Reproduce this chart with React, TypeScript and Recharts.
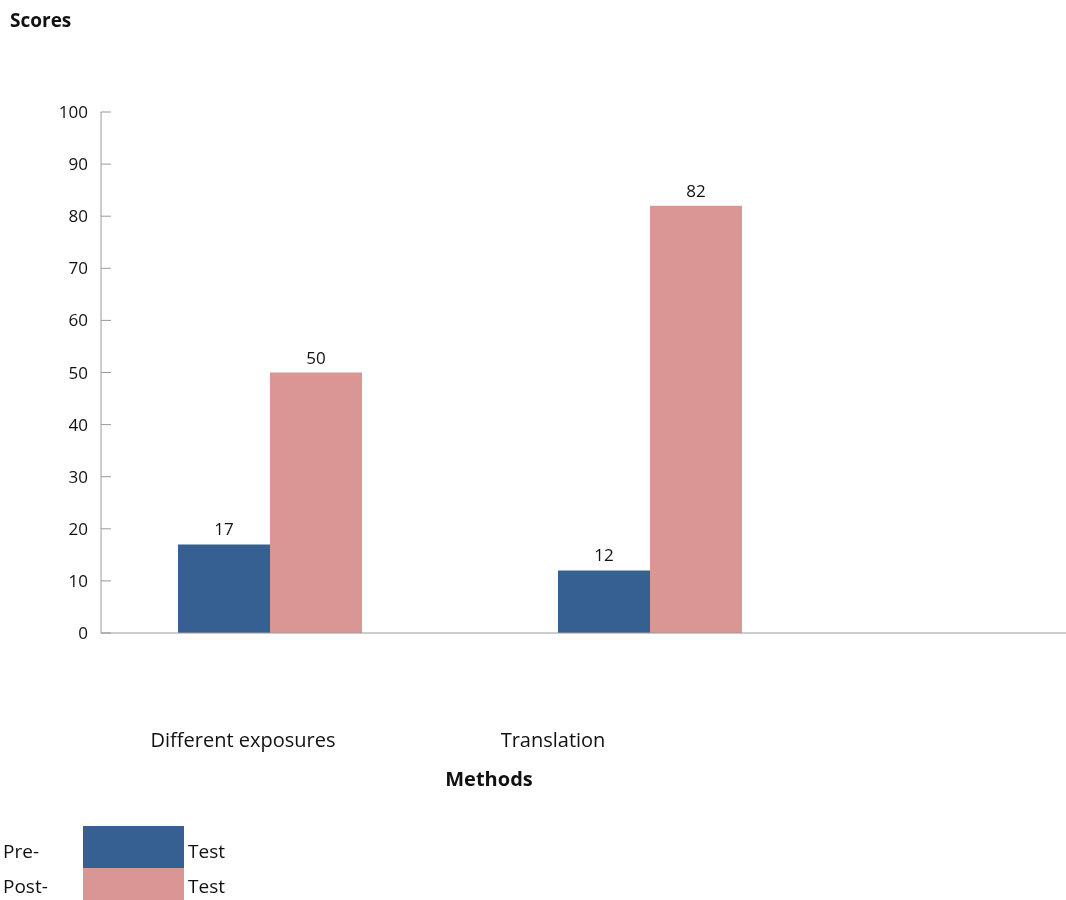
import React from 'react';
import { BarChart, Bar, XAxis, YAxis, Legend, LabelList } from 'recharts';

// values
const methods = ['Different exposures', 'Translation'];
const preTest = [17, 12];
const postTest = [50, 82];
const seriesNames = ['Pre-Test', 'Post-Test'];
const yTicks = [0, 10, 20, 30, 40, 50, 60, 70, 80, 90, 100];

const data = methods.map((m, i) => ({ method: m, pre: preTest[i], post: postTest[i] }));

const FONT = '"Open Sans", sans-serif';
const PRE_COLOR = '#376092';
const POST_COLOR = '#d99694';
const AXIS_COLOR = '#9a9a9a';
// category labels sit left of the bar groups in the original
const TICK_SHIFT = [-27, -97];

const CategoryTick = (props: any) => {
  const { x, y, payload, index } = props;
  return (
    <text
      x={x + (TICK_SHIFT[index] ?? 0)}
      y={y}
      dy="0.71em"
      textAnchor="middle"
      fontFamily={FONT}
      fontSize={20}
      fill="#111"
    >
      {payload.value}
    </text>
  );
};

const LegendBox = (props: any) => {
  const items = [...(props.payload || [])].sort(
    (a: any, b: any) => seriesNames.indexOf(a.value) - seriesNames.indexOf(b.value)
  );
  const txt: React.CSSProperties = { position: 'absolute', fontFamily: FONT, fontSize: 19, lineHeight: '26px', color: '#111' };
  return (
    <div style={{ position: 'relative', height: 74, width: 260 }}>
      {items.map((p: any, i: number) => {
        const [left, right] = String(p.value).split('-');
        const top = i * 42;
        const textTop = i === 0 ? 12 : 47;
        return (
          <React.Fragment key={p.value}>
            <div style={{ position: 'absolute', left: 80, top, width: 101, height: i === 0 ? 42 : 40, background: p.color }} />
            <span style={{ ...txt, left: 0, top: textTop }}>{left}-</span>
            <span style={{ ...txt, left: 185, top: textTop }}>{right}</span>
          </React.Fragment>
        );
      })}
    </div>
  );
};

export default function App() {
  return (
    <div style={{ position: 'fixed', left: 8, top: 8 }}>
      <BarChart
        width={1058}
        height={892}
        data={data}
        margin={{ top: 104, right: 0, bottom: 0, left: 0 }}
        barGap={0}
      >
        <XAxis
          dataKey="method"
          stroke={AXIS_COLOR}
          tickLine={false}
          tickSize={0}
          tickMargin={100}
          height={193}
          padding={{ left: -21, right: 226 }}
          tick={<CategoryTick />}
          label={{
            content: (lp: any) => {
              const vb = lp.viewBox || {};
              return (
                <text
                  x={vb.x + 388}
                  y={vb.y + 153}
                  textAnchor="middle"
                  fontFamily={FONT}
                  fontWeight="bold"
                  fontSize={20}
                  fill="#111"
                >
                  Methods
                </text>
              );
            },
          }}
        />
        <YAxis
          domain={[0, 100]}
          ticks={yTicks}
          interval={0}
          width={93}
          stroke={AXIS_COLOR}
          tickSize={-10}
          tickMargin={23}
          tick={{ fontFamily: FONT, fontSize: 17, fill: '#111' }}
          label={{
            content: (lp: any) => {
              const vb = lp.viewBox || {};
              return (
                <text
                  x={vb.x + 2}
                  y={19}
                  fontFamily={FONT}
                  fontWeight="bold"
                  fontSize={19}
                  fill="#111"
                >
                  Scores
                </text>
              );
            },
          }}
        />
        <Legend
          verticalAlign="bottom"
          align="left"
          content={<LegendBox />}
          wrapperStyle={{ left: -5, bottom: 0, width: 260 }}
        />
        <Bar dataKey="pre" name={seriesNames[0]} fill={PRE_COLOR} barSize={92} isAnimationActive={false}>
          <LabelList dataKey="pre" position="top" offset={9} fontFamily={FONT} fontSize={17} fill="#111" />
        </Bar>
        <Bar dataKey="post" name={seriesNames[1]} fill={POST_COLOR} barSize={92} isAnimationActive={false}>
          <LabelList dataKey="post" position="top" offset={9} fontFamily={FONT} fontSize={17} fill="#111" />
        </Bar>
      </BarChart>
    </div>
  );
}
